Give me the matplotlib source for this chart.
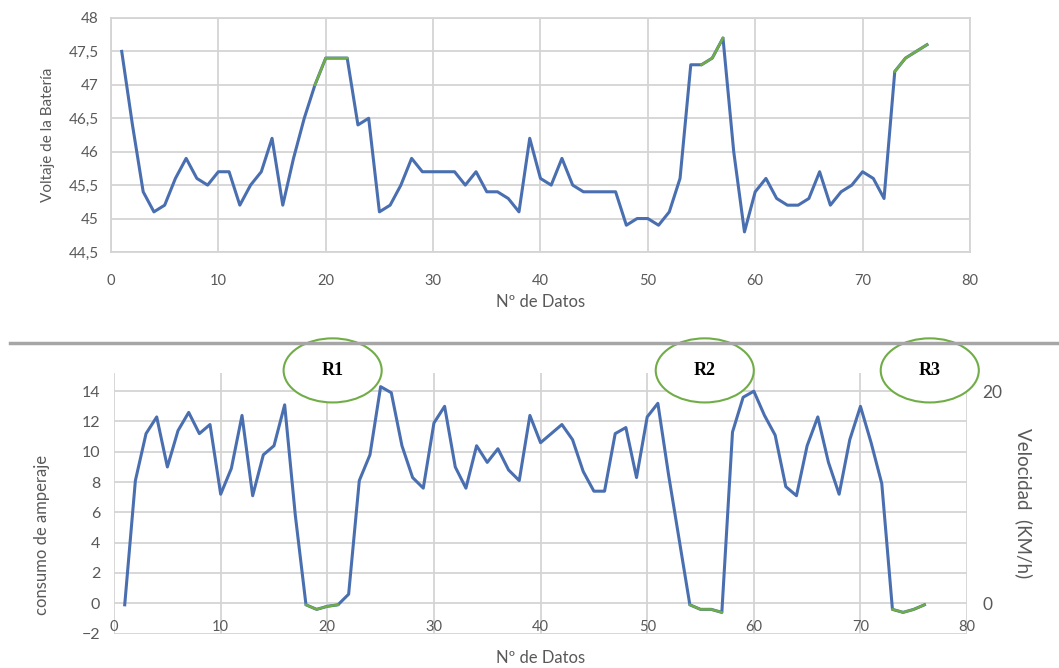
import numpy as np
import matplotlib
matplotlib.use('Agg')
import matplotlib.pyplot as plt
import matplotlib as mpl
import matplotlib.transforms as transforms
from matplotlib.patches import Ellipse
from matplotlib.lines import Line2D
plt.rcParams['font.family'] = ['Lato', 'DejaVu Sans']

# datos
n_datos = list(range(1, 77))
voltaje = [47.5, 46.4, 45.4, 45.1, 45.2, 45.6, 45.9, 45.6, 45.5, 45.7,
           45.7, 45.2, 45.5, 45.7, 46.2, 45.2, 45.9, 46.5, 47.0, 47.4,
           47.4, 47.4, 46.4, 46.5, 45.1, 45.2, 45.5, 45.9, 45.7, 45.7,
           45.7, 45.7, 45.5, 45.7, 45.4, 45.4, 45.3, 45.1, 46.2, 45.6,
           45.5, 45.9, 45.5, 45.4, 45.4, 45.4, 45.4, 44.9, 45.0, 45.0,
           44.9, 45.1, 45.6, 47.3, 47.3, 47.4, 47.7, 46.0, 44.8, 45.4,
           45.6, 45.3, 45.2, 45.2, 45.3, 45.7, 45.2, 45.4, 45.5, 45.7,
           45.6, 45.3, 47.2, 47.4, 47.5, 47.6]
amperaje = [-0.1, 8.1, 11.2, 12.3, 9.0, 11.4, 12.6, 11.2, 11.8, 7.2,
            8.9, 12.4, 7.1, 9.8, 10.4, 13.1, 5.8, -0.1, -0.4, -0.2,
            -0.1, 0.6, 8.1, 9.8, 14.3, 13.9, 10.4, 8.3, 7.6, 11.9,
            13.0, 9.0, 7.6, 10.4, 9.3, 10.2, 8.8, 8.1, 12.4, 10.6,
            11.2, 11.8, 10.8, 8.7, 7.4, 7.4, 11.2, 11.6, 8.3, 12.3,
            13.2, 8.5, 4.2, -0.1, -0.4, -0.4, -0.6, 11.3, 13.6, 14.0,
            12.4, 11.1, 7.7, 7.1, 10.4, 12.3, 9.3, 7.2, 10.8, 13.0,
            10.6, 7.9, -0.4, -0.6, -0.4, -0.1]
# tramos marcados en verde (desde, hasta)
tramos_voltaje = [(19, 22), (55, 57), (73, 76)]
tramos_amperaje = [(18, 21), (54, 57), (73, 76)]
regiones = ['R1', 'R2', 'R3']
regiones_x = [20.5, 55.4, 76.5]

azul = '#4a6fb0'
verde = '#70ad47'
gris = '#595959'
grid = '#d4d4d4'

fig = plt.figure(figsize=(10.59, 6.68), dpi=100)
vx = fig.add_axes([0.1048, 0.6228, 0.8111, 0.3503])
ax = fig.add_axes([0.1077, 0.0515, 0.8055, 0.3901])

#voltaje de la bateria
vx.plot(n_datos, voltaje, color=azul, lw=2.2, solid_joinstyle='round')
for a, b in tramos_voltaje:
    vx.plot(n_datos[a-1:b], voltaje[a-1:b], color=verde, lw=1.8, solid_joinstyle='round')
vx.set_xlim(0, 80)
vx.set_ylim(44.5, 48)
vx.set_xticks(range(0, 81, 10))
vx.set_yticks(np.arange(44.5, 48.01, 0.5))
vx.yaxis.set_major_formatter(mpl.ticker.FuncFormatter(lambda v, p: ('%g' % v).replace('.', ',')))
vx.grid(True, color=grid, lw=1.3)
vx.set_axisbelow(True)
for s in vx.spines.values():
    s.set_color(grid)
    s.set_linewidth(1.3)
vx.tick_params(axis='x', length=0, colors=gris, labelsize=10.5, pad=16)
vx.tick_params(axis='y', length=0, colors=gris, labelsize=11, pad=9)
vx.set_xlabel('Nº de Datos', color=gris, fontsize=12, labelpad=4)
vx.set_ylabel('Voltaje de la Batería', color=gris, fontsize=11)
vx.yaxis.set_label_coords(-0.065, 0.5)

#consumo de amperaje
ax.plot(n_datos, amperaje, color=azul, lw=2.2, solid_joinstyle='round')
for a, b in tramos_amperaje:
    ax.plot(n_datos[a-1:b], amperaje[a-1:b], color=verde, lw=1.8, solid_joinstyle='round')
ax.set_xlim(0, 80)
ax.set_ylim(-2, 15.2)
ax.set_xticks(range(0, 81, 10))
ax.set_yticks(range(-2, 15, 2))
ax.grid(True, color=grid, lw=1.3)
ax.set_axisbelow(True)
for s in ax.spines.values():
    s.set_visible(False)
ax.tick_params(axis='x', length=0, colors=gris, labelsize=10.5, pad=-10)
ax.tick_params(axis='y', length=0, colors=gris, labelsize=11.5, pad=10)
ax.set_xlabel('Nº de Datos', color=gris, fontsize=12, labelpad=12)
ax.set_ylabel('consumo de amperaje', color=gris, fontsize=12)
ax.yaxis.set_label_coords(-0.075, 0.38)

#eje de velocidad
sx = ax.twinx()
sx.set_ylim(-2*20/14, 15.2*20/14)
sx.set_yticks([0, 20])
for s in sx.spines.values():
    s.set_visible(False)
sx.tick_params(axis='y', length=0, colors=gris, labelsize=12.5, pad=11)
sx.set_ylabel('Velocidad  (KM/h)', color=gris, fontsize=13.5, rotation=270, labelpad=22)

#regiones
trans = transforms.blended_transform_factory(ax.transData, ax.transAxes)
for r, xr in zip(regiones, regiones_x):
    e = Ellipse((xr, 1.01), width=9.2, height=0.246, transform=trans,
                facecolor='white', edgecolor=verde, lw=1.5, clip_on=False, zorder=5)
    sx.add_patch(e)
    sx.text(xr, 1.01, r, transform=trans, ha='center', va='center', fontsize=13,
            fontweight='bold', family='Liberation Serif', zorder=6)

#linea separadora
fig.add_artist(Line2D([10/1059, 1], [1-343/668, 1-343/668], color='#a6a6a6', lw=2.5))

plt.savefig('out.png', dpi=100)
